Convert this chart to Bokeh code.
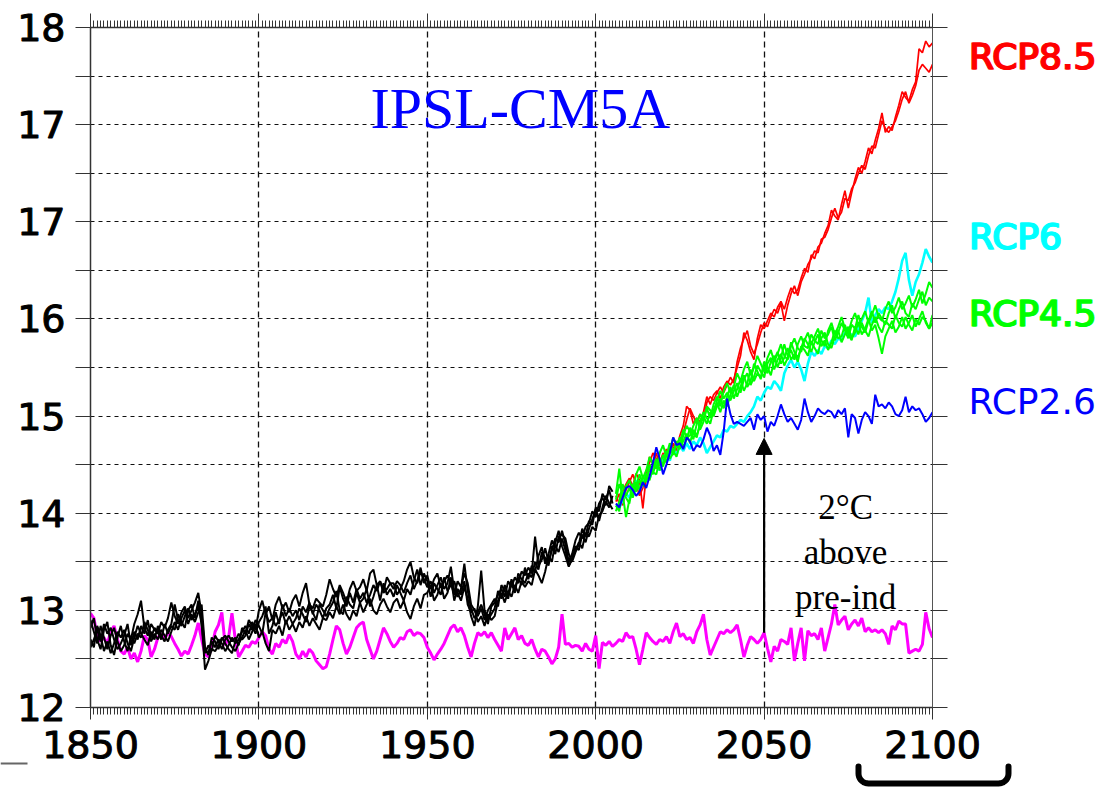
import numpy as np
from bokeh.plotting import figure
from bokeh.layouts import column
from bokeh.models import (LinearAxis, FixedTicker, Range1d, Label, Arrow, NormalHead,
                          Grid, GridBox)
from bokeh.core.properties import value
from bokeh.embed import file_html
from bokeh.resources import INLINE

# ---------------------------------------------------------------- data
years_hist = list(range(1850, 2006))
years_ctrl = list(range(1850, 2101))
years_rcp = list(range(2006, 2101))

# pre-industrial control run (magenta)
pi_control = [
    12.97, 12.92, 12.74, 12.68, 12.72, 12.66, 12.78, 12.84, 12.70, 12.58,
    12.55, 12.62, 12.50, 12.56, 12.47, 12.58, 12.74, 12.70, 12.52, 12.60,
    12.72, 12.76, 12.70, 12.77, 12.73, 12.66, 12.60, 12.53, 12.58, 12.55,
    12.64, 12.74, 12.87, 12.70, 12.55, 12.52, 12.62, 12.78, 12.85, 12.98,
    12.64, 12.72, 12.97, 12.70, 12.52, 12.58, 12.64, 12.62, 12.68, 12.66,
    12.72, 12.78, 12.74, 12.60, 12.55, 12.66, 12.62, 12.70, 12.66, 12.75,
    12.68, 12.55, 12.50, 12.58, 12.52, 12.60, 12.56, 12.48, 12.44, 12.40,
    12.42, 12.55, 12.70, 12.84, 12.80, 12.66, 12.55, 12.62, 12.72, 12.82,
    12.86, 12.88, 12.70, 12.60, 12.50, 12.58, 12.70, 12.82, 12.76, 12.68,
    12.62, 12.66, 12.72, 12.70, 12.78, 12.80, 12.74, 12.77, 12.76, 12.72,
    12.62, 12.56, 12.49, 12.55, 12.60, 12.66, 12.74, 12.82, 12.85, 12.78,
    12.82, 12.74, 12.62, 12.52, 12.66, 12.77, 12.74, 12.78, 12.72, 12.77,
    12.70, 12.64, 12.58, 12.82, 12.70, 12.76, 12.82, 12.70, 12.74, 12.66,
    12.64, 12.70, 12.60, 12.52, 12.60, 12.58, 12.52, 12.45, 12.50, 12.62,
    12.96, 12.65, 12.66, 12.62, 12.64, 12.63, 12.58, 12.66, 12.60, 12.58,
    12.74, 12.40, 12.67, 12.64, 12.68, 12.63, 12.66, 12.70, 12.68, 12.77,
    12.72, 12.73, 12.60, 12.44, 12.60, 12.77, 12.72, 12.68, 12.65, 12.70,
    12.68, 12.73, 12.66, 12.78, 12.87, 12.73, 12.76, 12.70, 12.72, 12.66,
    12.78, 12.85, 12.96, 12.70, 12.54, 12.62, 12.70, 12.78, 12.76, 12.80,
    12.77, 12.80, 12.85, 12.70, 12.52, 12.64, 12.73, 12.70, 12.66, 12.70,
    12.77, 12.61, 12.47, 12.63, 12.58, 12.70, 12.68, 12.65, 12.82, 12.48,
    12.66, 12.82, 12.48, 12.79, 12.74, 12.76, 12.70, 12.82, 12.58, 12.72,
    12.86, 13.06, 12.85, 12.90, 12.94, 12.80, 12.86, 12.90, 12.84, 12.92,
    12.78, 12.82, 12.78, 12.80, 12.77, 12.80, 12.76, 12.65, 12.84, 12.80,
    12.89, 12.86, 12.86, 12.56, 12.58, 12.60, 12.58, 12.65, 12.98, 12.81,
    12.72,
]

# historical runs 1850-2005 (black)
hist_1 = [
    12.90, 12.78, 12.66, 12.84, 12.72, 12.60, 12.74, 12.82, 12.68, 12.58,
    12.64, 12.76, 12.70, 12.86, 12.96, 13.10, 12.82, 12.74, 12.86, 12.80,
    12.76, 12.88, 12.82, 12.92, 13.08, 12.94, 12.86, 12.98, 13.04, 12.92,
    13.00, 13.08, 13.18, 12.96, 12.58, 12.56, 12.68, 12.62, 12.70, 12.66,
    12.58, 12.64, 12.72, 12.66, 12.70, 12.78, 12.84, 12.76, 12.88, 12.80,
    13.00, 13.10, 12.96, 13.04, 12.90, 13.06, 13.14, 13.02, 13.08, 12.98,
    13.10, 13.16, 13.04, 13.18, 13.28, 13.06, 13.02, 13.12, 13.08, 13.04,
    13.16, 13.32, 13.22, 13.14, 13.26, 13.18, 13.08, 13.22, 13.30, 13.20,
    13.24, 13.32, 13.20, 13.38, 13.42, 13.26, 13.30, 13.20, 13.34, 13.28,
    13.28, 13.16, 13.22, 13.30, 13.42, 13.50, 13.34, 13.28, 13.40, 13.32,
    13.24, 13.30, 13.18, 13.26, 13.34, 13.22, 13.28, 13.45, 13.20, 13.14,
    13.22, 13.48, 13.20, 13.02, 12.92, 12.98, 13.06, 12.96, 12.86, 13.04,
    13.08, 13.16, 13.22, 13.14, 13.30, 13.24, 13.34, 13.28, 13.40, 13.36,
    13.44, 13.38, 13.76, 13.46, 13.52, 13.64, 13.50, 13.62, 13.74, 13.70,
    13.82, 13.68, 13.50, 13.58, 13.72, 13.80, 13.74, 13.86, 13.90, 14.02,
    13.96, 14.10, 14.16, 14.08, 14.28, 14.22,
]
hist_2 = [
    12.70, 12.62, 12.84, 12.74, 12.58, 12.68, 12.56, 12.66, 12.78, 12.72,
    12.80, 12.66, 12.58, 12.72, 12.84, 12.76, 12.70, 12.64, 12.78, 12.70,
    12.84, 12.74, 12.68, 12.80, 12.86, 13.06, 12.90, 12.84, 12.94, 13.02,
    12.90, 12.96, 13.04, 12.88, 12.39, 12.48, 12.60, 12.58, 12.64, 12.72,
    12.66, 12.60, 12.56, 12.68, 12.76, 12.70, 12.74, 12.86, 12.80, 12.90,
    12.84, 12.76, 12.98, 12.88, 12.92, 12.84, 12.90, 12.98, 12.86, 12.94,
    12.86, 12.92, 13.02, 12.96, 12.88, 13.04, 12.98, 12.90, 13.06, 13.00,
    12.94, 13.02, 13.08, 13.20, 13.00, 12.96, 13.14, 13.06, 13.02, 13.18,
    13.08, 13.12, 13.22, 13.04, 13.14, 13.26, 13.10, 13.28, 13.16, 13.22,
    13.14, 13.26, 13.18, 13.10, 13.22, 13.16, 13.30, 13.42, 13.26, 13.38,
    13.30, 13.14, 13.28, 13.22, 13.16, 13.34, 13.20, 13.26, 13.30, 13.18,
    13.10, 13.24, 13.12, 12.94, 12.84, 13.04, 13.41, 13.00, 12.90, 12.96,
    13.02, 13.20, 13.12, 13.26, 13.16, 13.32, 13.22, 13.34, 13.26, 13.44,
    13.32, 13.46, 13.40, 13.56, 13.65, 13.48, 13.58, 13.72, 13.66, 13.60,
    13.74, 13.62, 13.46, 13.52, 13.66, 13.62, 13.78, 13.70, 13.84, 13.94,
    14.04, 13.92, 14.06, 14.18, 14.10, 14.04,
]
hist_3 = [
    12.82, 12.92, 12.70, 12.60, 12.80, 12.88, 12.64, 12.54, 12.72, 12.84,
    12.68, 12.58, 12.74, 12.66, 12.76, 12.72, 12.88, 12.80, 12.68, 12.76,
    12.70, 12.80, 12.74, 12.68, 12.78, 12.88, 12.80, 12.92, 13.00, 12.86,
    12.96, 12.88, 12.98, 13.06, 12.62, 12.54, 12.72, 12.68, 12.60, 12.70,
    12.74, 12.68, 12.62, 12.58, 12.66, 12.72, 12.80, 12.70, 12.78, 12.86,
    12.72, 12.78, 12.66, 12.58, 12.80, 12.76, 12.84, 12.74, 12.90, 12.80,
    12.86, 12.78, 12.88, 12.82, 12.94, 12.84, 12.92, 12.86, 12.80, 12.92,
    12.90, 12.98, 12.92, 13.04, 12.96, 13.06, 12.96, 12.90, 13.00, 12.94,
    13.08, 12.98, 13.06, 13.12, 13.00, 12.96, 13.06, 13.12, 13.04, 12.98,
    13.08, 13.12, 13.02, 13.10, 12.98, 12.91, 13.04, 13.12, 13.02, 13.16,
    13.18, 13.26, 13.10, 13.16, 13.28, 13.12, 13.18, 13.34, 13.10, 13.22,
    13.16, 13.30, 13.06, 12.98, 13.02, 12.88, 12.94, 12.84, 12.96, 12.90,
    12.94, 13.10, 13.18, 13.08, 13.20, 13.14, 13.26, 13.18, 13.30, 13.24,
    13.30, 13.26, 13.42, 13.36, 13.28, 13.40, 13.56, 13.50, 13.70, 13.82,
    13.66, 13.56, 13.45, 13.54, 13.62, 13.70, 13.64, 13.80, 13.76, 13.86,
    13.82, 13.98, 14.02, 14.12, 14.06, 14.18,
]
hist_4 = [
    12.62, 12.70, 12.80, 12.68, 12.86, 12.76, 12.82, 12.70, 12.60, 12.66,
    12.74, 12.86, 12.64, 12.78, 12.70, 12.84, 12.76, 12.90, 12.72, 12.82,
    12.78, 12.70, 12.86, 12.76, 12.84, 12.80, 12.96, 12.88, 12.82, 13.00,
    13.06, 12.92, 13.10, 12.84, 12.56, 12.64, 12.58, 12.74, 12.68, 12.60,
    12.70, 12.74, 12.68, 12.72, 12.64, 12.82, 12.76, 12.90, 12.84, 12.76,
    12.88, 12.94, 13.04, 12.76, 12.84, 12.98, 12.86, 13.06, 12.94, 13.02,
    12.94, 13.00, 12.90, 13.04, 12.98, 13.08, 12.96, 13.06, 13.00, 12.92,
    13.02, 13.06, 13.16, 13.02, 13.24, 13.12, 13.04, 13.18, 13.08, 13.22,
    13.12, 13.18, 13.08, 13.16, 13.26, 13.20, 13.30, 13.18, 13.22, 13.28,
    13.22, 13.30, 13.26, 13.18, 13.28, 13.36, 13.22, 13.30, 13.44, 13.28,
    13.36, 13.22, 13.32, 13.38, 13.24, 13.30, 13.36, 13.28, 13.16, 13.30,
    13.24, 13.38, 13.28, 13.06, 13.00, 12.94, 13.02, 12.90, 13.00, 13.06,
    13.12, 13.04, 13.26, 13.20, 13.12, 13.28, 13.18, 13.38, 13.32, 13.28,
    13.38, 13.34, 13.50, 13.42, 13.60, 13.54, 13.46, 13.66, 13.58, 13.76,
    13.78, 13.74, 13.58, 13.50, 13.60, 13.68, 13.84, 13.76, 13.92, 13.88,
    14.06, 14.02, 14.20, 14.14, 14.24, 14.10,
]

# scenario runs 2006-2100
rcp85_1 = [
    14.18, 14.10, 14.22, 14.30, 14.36, 14.28, 14.41, 14.34, 14.05, 14.38,
    14.58, 14.52, 14.62, 14.48, 14.56, 14.66, 14.60, 14.72, 14.64, 14.80,
    14.90, 15.10, 15.06, 14.92, 14.98, 14.94, 15.04, 15.20, 15.12, 15.22,
    15.26, 15.18, 15.30, 15.36, 15.32, 15.38, 15.50, 15.62, 15.86, 15.78,
    15.66, 15.58, 15.80, 15.94, 15.90, 15.98, 16.06, 16.02, 16.12, 16.18,
    16.10, 16.22, 16.32, 16.26, 16.30, 16.42, 16.52, 16.48, 16.66, 16.62,
    16.74, 16.78, 16.88, 16.96, 17.12, 17.06, 17.02, 17.18, 17.32, 17.14,
    17.30, 17.44, 17.56, 17.50, 17.62, 17.76, 17.70, 17.84, 17.96, 18.12,
    17.92, 17.98, 17.94, 18.08, 18.20, 18.34, 18.28, 18.24, 18.36, 18.44,
    18.78, 18.74, 18.86, 18.80, 18.84,
]
rcp85_2 = [
    14.12, 14.20, 14.08, 14.24, 14.32, 14.40, 14.30, 14.18, 14.26, 14.44,
    14.52, 14.62, 14.56, 14.52, 14.62, 14.58, 14.70, 14.66, 14.74, 14.70,
    14.82, 14.96, 15.08, 15.00, 14.92, 15.02, 14.96, 15.14, 15.20, 15.16,
    15.24, 15.30, 15.24, 15.32, 15.40, 15.34, 15.56, 15.70, 15.80, 15.88,
    15.72, 15.64, 15.74, 15.86, 15.96, 15.92, 16.02, 16.10, 16.06, 16.16,
    15.98, 16.14, 16.26, 16.34, 16.24, 16.38, 16.46, 16.56, 16.62, 16.70,
    16.68, 16.82, 16.84, 16.92, 17.04, 17.14, 17.04, 17.10, 17.24, 17.22,
    17.34, 17.40, 17.50, 17.58, 17.54, 17.68, 17.78, 17.76, 17.90, 18.04,
    17.96, 17.92, 17.98, 18.04, 18.14, 18.26, 18.34, 18.22, 18.30, 18.40,
    18.56, 18.62, 18.58, 18.54, 18.62,
]
rcp60 = [
    14.08, 14.06, 14.14, 14.20, 14.16, 14.28, 14.34, 14.24, 14.30, 14.40,
    14.36, 14.46, 14.52, 14.44, 14.56, 14.62, 14.54, 14.66, 14.60, 14.70,
    14.64, 14.72, 14.66, 14.74, 14.70, 14.78, 14.72, 14.62, 14.68, 14.74,
    14.80, 14.78, 14.86, 14.84, 14.90, 14.88, 14.92, 14.96, 14.94, 15.00,
    15.04, 15.10, 15.20, 15.16, 15.24, 15.30, 15.28, 15.36, 15.32, 15.26,
    15.44, 15.52, 15.58, 15.50, 15.56, 15.48, 15.36, 15.54, 15.66, 15.62,
    15.68, 15.64, 15.72, 15.70, 15.78, 15.74, 15.80, 15.78, 15.86, 15.84,
    15.84, 15.82, 15.90, 15.98, 16.06, 16.22, 15.96, 16.04, 16.10, 16.06,
    16.12, 16.10, 16.18, 16.28, 16.42, 16.60, 16.68, 16.40, 16.24, 16.38,
    16.46, 16.58, 16.72, 16.64, 16.58,
]
rcp45_1 = [
    14.20, 14.46, 14.14, 14.28, 14.34, 14.24, 14.40, 14.48, 14.36, 14.44,
    14.58, 14.50, 14.46, 14.62, 14.70, 14.58, 14.64, 14.78, 14.70, 14.66,
    14.80, 14.90, 14.84, 14.76, 14.92, 15.02, 14.96, 15.08, 14.98, 15.12,
    15.20, 15.10, 15.26, 15.34, 15.24, 15.30, 15.44, 15.36, 15.48, 15.56,
    15.42, 15.50, 15.62, 15.54, 15.46, 15.60, 15.68, 15.56, 15.64, 15.74,
    15.62, 15.58, 15.72, 15.80, 15.70, 15.66, 15.78, 15.86, 15.74, 15.82,
    15.90, 15.78, 15.72, 15.88, 15.96, 15.84, 15.92, 16.02, 15.90, 15.86,
    15.98, 16.06, 15.94, 16.00, 16.08, 15.96, 16.04, 16.14, 16.02, 15.98,
    16.10, 16.18, 16.06, 16.12, 16.22, 16.10, 16.16, 16.24, 16.12, 16.20,
    16.30, 16.16, 16.26, 16.38, 16.32,
]
rcp45_2 = [
    14.08, 14.02, 14.22, 14.16, 14.10, 14.30, 14.22, 14.34, 14.28, 14.40,
    14.34, 14.48, 14.56, 14.44, 14.52, 14.64, 14.56, 14.62, 14.74, 14.68,
    14.74, 14.82, 14.72, 14.86, 14.80, 14.90, 15.00, 14.92, 15.04, 15.00,
    15.10, 15.18, 15.08, 15.20, 15.30, 15.18, 15.28, 15.38, 15.26, 15.34,
    15.48, 15.36, 15.44, 15.40, 15.56, 15.50, 15.42, 15.58, 15.66, 15.54,
    15.60, 15.70, 15.58, 15.64, 15.56, 15.72, 15.68, 15.62, 15.76, 15.70,
    15.64, 15.80, 15.86, 15.74, 15.70, 15.82, 15.88, 15.76, 15.84, 15.92,
    15.80, 15.86, 15.96, 15.84, 15.90, 16.00, 15.88, 15.94, 15.80, 15.64,
    15.82, 15.90, 15.98, 15.86, 15.92, 16.02, 15.90, 15.96, 16.04, 15.92,
    16.00, 16.08, 15.96, 15.90, 15.96,
]
rcp45_3 = [
    14.14, 14.30, 14.20, 13.96, 14.14, 14.20, 14.32, 14.24, 14.38, 14.32,
    14.46, 14.40, 14.54, 14.50, 14.60, 14.52, 14.68, 14.60, 14.70, 14.78,
    14.68, 14.76, 14.88, 14.82, 14.78, 14.94, 15.04, 14.98, 14.92, 15.06,
    15.14, 15.04, 15.16, 15.10, 15.22, 15.32, 15.20, 15.30, 15.42, 15.30,
    15.36, 15.54, 15.46, 15.38, 15.52, 15.44, 15.56, 15.62, 15.50, 15.60,
    15.74, 15.62, 15.68, 15.58, 15.74, 15.82, 15.72, 15.70, 15.84, 15.78,
    15.74, 15.88, 15.80, 15.84, 15.92, 15.78, 15.86, 15.96, 15.88, 15.80,
    15.94, 15.90, 16.04, 15.92, 15.86, 15.98, 16.08, 15.96, 16.06, 16.00,
    15.94, 16.06, 16.14, 16.00, 16.10, 16.18, 16.06, 16.02, 16.16, 16.10,
    16.20, 16.28, 16.14, 16.22, 16.18,
]
rcp45_4 = [
    14.02, 14.12, 14.30, 14.18, 14.26, 14.16, 14.28, 14.40, 14.30, 14.36,
    14.50, 14.42, 14.40, 14.56, 14.48, 14.60, 14.72, 14.64, 14.58, 14.72,
    14.86, 14.78, 14.80, 14.90, 14.98, 14.86, 14.94, 15.10, 15.06, 15.02,
    15.16, 15.26, 15.18, 15.24, 15.16, 15.26, 15.34, 15.24, 15.38, 15.44,
    15.32, 15.40, 15.52, 15.46, 15.40, 15.54, 15.60, 15.48, 15.58, 15.64,
    15.52, 15.60, 15.76, 15.66, 15.60, 15.70, 15.80, 15.74, 15.66, 15.76,
    15.84, 15.72, 15.78, 15.68, 15.76, 15.88, 15.80, 15.82, 15.94, 15.84,
    15.78, 15.92, 15.84, 15.96, 15.88, 15.82, 15.94, 16.02, 15.92, 15.86,
    15.98, 15.94, 15.90, 16.04, 15.96, 15.92, 16.02, 15.94, 15.88, 16.00,
    15.94, 16.02, 15.98, 15.90, 16.04,
]
rcp26 = [
    14.10, 14.06, 14.16, 14.26, 14.28, 14.24, 14.18, 14.22, 14.32, 14.26,
    14.38, 14.52, 14.68, 14.56, 14.40, 14.50, 14.62, 14.78, 14.70, 14.72,
    14.66, 14.78, 14.74, 14.64, 14.70, 14.68, 14.76, 14.88, 14.80, 14.64,
    14.70, 14.60, 14.84, 15.18, 15.02, 14.92, 14.94, 14.92, 14.90, 14.94,
    14.98, 14.86, 15.02, 14.96, 15.00, 14.84, 14.94, 14.90, 15.00, 15.12,
    15.02, 14.94, 14.98, 14.92, 14.86, 14.96, 15.18, 15.04, 14.94, 15.00,
    15.08, 15.04, 15.02, 15.06, 15.04, 14.98, 15.06, 15.02, 15.08, 14.78,
    15.02, 14.98, 14.82, 14.96, 15.04, 15.00, 14.92, 15.22, 15.10, 15.12,
    15.08, 15.14, 15.10, 15.02, 15.00, 15.06, 15.20, 15.04, 15.10, 15.06,
    15.08, 15.02, 14.94, 14.98, 15.04,
]

x_major = [1850, 1900, 1950, 2000, 2050, 2100]
y_major = [12, 13, 14, 15, 16, 17, 18, 19]
y_labels = ["12", "13", "14", "15", "16", "17", "17", "18"]
y_half = [12.5, 13.5, 14.5, 15.5, 16.5, 17.5, 18.5]

scenario_labels = ["RCP8.5", "RCP6", "RCP4.5", "RCP2.6"]
scenario_colors = ["#ff0000", "#00ffff", "#00ff00", "#0000ff"]
scenario_label_y = [18.70, 16.85, 16.06, 15.15]

arrow_year = 2050
arrow_top = 14.77

# ---------------------------------------------------------------- geometry
W, H = 1102, 790
FRAME_L, FRAME_R, FRAME_T, FRAME_B = 90, 932, 27, 707
X0, X1, Y0, Y1 = 1850, 2100, 12, 19
px_per_x = (FRAME_R - FRAME_L) / (X1 - X0)
px_per_y = (FRAME_B - FRAME_T) / (Y1 - Y0)

# ---------------------------------------------------------------- main chart
p = figure(width=W, height=H, output_backend="svg", toolbar_location=None,
           x_range=Range1d(X0, X1), y_range=Range1d(Y0, Y1),
           x_axis_type=None, y_axis_type=None,
           min_border_left=FRAME_L, min_border_right=W - FRAME_R,
           min_border_top=FRAME_T, min_border_bottom=H - FRAME_B)
p.outline_line_color = None
p.background_fill_color = "white"
p.border_fill_color = "white"

tick_font = "DejaVu Sans"
axis_col = "#333333"

x_ticker = FixedTicker(ticks=x_major, minor_ticks=list(range(1850, 2101)))
y_ticker = FixedTicker(ticks=y_major, minor_ticks=y_half)

bottom = LinearAxis(ticker=x_ticker, axis_line_color=axis_col, axis_line_width=1.5,
                    major_tick_line_color=axis_col, minor_tick_line_color=axis_col,
                    major_tick_in=0, major_tick_out=12, minor_tick_in=0, minor_tick_out=7,
                    major_label_text_font=tick_font, major_label_text_font_size="38px",
                    major_label_text_color="black", major_label_text_outline_color="black",
                    major_label_standoff=11)
p.add_layout(bottom, "below")

top = LinearAxis(ticker=x_ticker, axis_line_color=axis_col, axis_line_width=1.5,
                 major_tick_line_color=axis_col, minor_tick_line_color=axis_col,
                 major_tick_in=0, major_tick_out=14, minor_tick_in=0, minor_tick_out=7,
                 major_label_overrides={v: "" for v in x_major},
                 major_label_text_font_size="1px", major_label_standoff=0)
p.add_layout(top, "above")

left = LinearAxis(ticker=y_ticker, axis_line_color=axis_col, axis_line_width=1.5,
                  major_tick_line_color=axis_col, minor_tick_line_color=axis_col,
                  major_tick_in=0, major_tick_out=15, minor_tick_in=0, minor_tick_out=15,
                  major_label_overrides=dict(zip(y_major, y_labels)),
                  major_label_text_font=tick_font, major_label_text_font_size="38px",
                  major_label_text_color="black", major_label_text_outline_color="black",
                  major_label_standoff=10)
p.add_layout(left, "left")

right = LinearAxis(ticker=y_ticker, axis_line_color="#555555", axis_line_width=1,
                   major_tick_line_color=axis_col, minor_tick_line_color=axis_col,
                   major_tick_in=0, major_tick_out=15, minor_tick_in=0, minor_tick_out=15,
                   major_label_overrides={v: "" for v in y_major},
                   major_label_text_font_size="1px", major_label_standoff=0)
p.add_layout(right, "right")

# dashed grid: half-degree rows, 50-year columns
p.add_layout(Grid(dimension=1, ticker=FixedTicker(ticks=y_major[1:-1] + y_half),
                  grid_line_color="#111111", grid_line_width=1.2, grid_line_dash="4 4"))
p.add_layout(Grid(dimension=0, ticker=FixedTicker(ticks=x_major[1:-1]),
                  grid_line_color="#111111", grid_line_width=1.3, grid_line_dash="6 4"))
p.add_layout(Grid(dimension=0, ticker=FixedTicker(ticks=[2100]),
                  grid_line_color="black", grid_line_width=2.5, grid_line_dash="6 4"))

# series
p.line(years_ctrl, pi_control, line_color="#ff00ff", line_width=3)
for run in (hist_1, hist_2, hist_3, hist_4):
    p.line(years_hist, run, line_color="black", line_width=2)
for run in (rcp85_1, rcp85_2):
    p.line(years_rcp, run, line_color="#ff0000", line_width=1.7)
p.line(years_rcp, rcp60, line_color="#00ffff", line_width=2.6)
for run in (rcp45_1, rcp45_2, rcp45_3, rcp45_4):
    p.line(years_rcp, run, line_color="#00ff00", line_width=2.0)
p.line(years_rcp, rcp26, line_color="#0000ff", line_width=2.0)

# arrow from the control level to the 2-degree level
start_level = pi_control[years_ctrl.index(arrow_year)]
p.add_layout(Arrow(x_start=arrow_year, y_start=start_level, x_end=arrow_year, y_end=arrow_top,
                   line_color="black", line_width=2.2,
                   end=NormalHead(size=16, fill_color="black", line_color="black", line_width=1)))

p.add_layout(Label(x=1933.1, y=18.17, text="IPSL-CM5A", text_font="Liberation Serif",
                   text_font_size="58px", text_color="#0000ff", text_align="left",
                   text_baseline="alphabetic"))

for txt, yy in zip(["2°C", "above", "pre-ind"], [14.06, 13.595, 13.135]):
    p.add_layout(Label(x=2074.2, y=yy, text=txt, text_font="Liberation Serif",
                       text_font_size="35px", text_color="black", text_align="center",
                       text_baseline="alphabetic"))

# ---------------------------------------------------------------- margin layer
# a transparent full-canvas layer sharing the chart's units, for the marks
# that sit outside the plotting area
ov = figure(width=W, height=H, output_backend="svg", toolbar_location=None,
            x_range=Range1d(X0 - FRAME_L / px_per_x, X1 + (W - FRAME_R) / px_per_x),
            y_range=Range1d(Y0 - (H - FRAME_B) / px_per_y, Y1 + FRAME_T / px_per_y),
            x_axis_type=None, y_axis_type=None, min_border=0)
ov.outline_line_color = None
ov.background_fill_alpha = 0
ov.border_fill_alpha = 0

label_x = X1 + 36 / px_per_x
# the three upper scenario names are set in a heavier stroke
for dx in (0, 1):
    ov.text(x=[label_x] * 3, y=scenario_label_y[:3], text=scenario_labels[:3],
            text_color=scenario_colors[:3], text_outline_color=scenario_colors[:3],
            text_font=value("DejaVu Sans"), text_font_size="36px", x_offset=dx,
            text_align="left", text_baseline="alphabetic")
ov.text(x=[label_x], y=scenario_label_y[3:], text=scenario_labels[3:],
        text_color=scenario_colors[3:], text_font=value("DejaVu Sans"),
        text_font_size="36px", text_align="left", text_baseline="alphabetic")

# bracket below the last decade
bx0, bx1 = X1 + (858 - FRAME_R) / px_per_x, X1 + (1008 - FRAME_R) / px_per_x
by_top, by_bot = Y0 - (766 - FRAME_B) / px_per_y, Y0 - (783 - FRAME_B) / px_per_y
rx, ry = 10 / px_per_x, 10 / px_per_y
t = np.linspace(0, np.pi / 2, 10)
path_x = ([bx0] + list(bx0 + rx - rx * np.cos(t)) + list(bx1 - rx + rx * np.sin(t)) + [bx1])
path_y = ([by_top] + list(by_bot + ry - ry * np.sin(t)) + list(by_bot + ry - ry * np.cos(t)) + [by_top])
ov.line(path_x, path_y, line_color="black", line_width=6, line_join="round", line_cap="round")

# short rule at the lower left
rule_y = Y0 - (763 - FRAME_B) / px_per_y
ov.line([X0 - FRAME_L / px_per_x, X0 - (FRAME_L - 27) / px_per_x], [rule_y, rule_y],
        line_color="#666666", line_width=2)

layout = GridBox(children=[(p, 0, 0), (column(ov), 0, 0)])
open("out.html", "w").write(file_html(layout, INLINE))
